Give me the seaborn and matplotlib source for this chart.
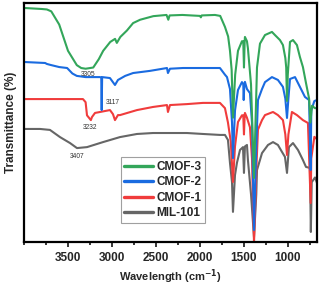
import numpy as np
import pandas as pd
import matplotlib
matplotlib.use("Agg")
import matplotlib.pyplot as plt
from matplotlib.lines import Line2D
from matplotlib.ticker import MultipleLocator
import seaborn as sns

# ---- data (wavenumber cm-1, transmittance in arbitrary offset %) ----
cmof3_wn = [3990, 3800, 3740, 3690, 3600, 3500, 3400, 3350, 3300, 3213, 3150, 3100, 3020, 2965, 2945, 2905,
            2830, 2760, 2680, 2530, 2380, 2360, 2345, 2200, 2000, 1990, 1980, 1830, 1770, 1716, 1680, 1659,
            1640, 1625, 1600, 1568, 1523, 1508, 1500, 1492, 1489, 1466, 1455, 1420, 1386, 1352, 1318, 1261,
            1182, 1148, 1091, 1057, 1030, 1020, 1011, 1002, 977, 943, 898, 864, 830, 795, 760, 745, 727, 693, 670]
cmof3_t = [97.9, 97.5, 97.3, 96.5, 91, 80, 74, 72.8, 72.5, 73, 76.5, 80, 83.7, 85, 83.3, 85.8,
           88.5, 91.6, 93, 94.5, 95, 93, 94.8, 95, 94.6, 94, 94.8, 95, 94.6, 90, 86, 80,
           72, 52, 70, 80, 84, 84, 73, 84, 85.8, 84, 81, 66, 26.8, 73, 83, 86.6,
           87.9, 86.6, 84.5, 82.4, 77, 73, 59, 70, 83.7, 84.5, 82.4, 77.4, 73.2, 66.5, 60, 50, 57, 56, 56]

cmof2_wn = [3990, 3760, 3740, 3700, 3600, 3510, 3450, 3400, 3300, 3216, 3136, 3122, 3117, 3112, 3023, 2966,
            2932, 2850, 2760, 2568, 2375, 2364, 2341, 2193, 2000, 1773, 1716, 1693, 1659, 1636, 1625, 1602,
            1568, 1523, 1508, 1503, 1496, 1489, 1466, 1432, 1409, 1386, 1360, 1341, 1295, 1261, 1182, 1114,
            1057, 1030, 1011, 995, 977, 920, 864, 807, 760, 742, 735, 700, 670]
cmof2_t = [75.3, 74.9, 74.5, 74.1, 73.2, 72.8, 70.5, 69.5, 69, 69, 69, 68.8, 55.2, 69, 68.6, 65.7,
           67.8, 69.5, 70.7, 71.6, 72.8, 70.7, 72.5, 72.8, 72.8, 72.8, 70, 69, 64, 50, 35.1, 55,
           63.6, 66.9, 66, 59.4, 66, 67, 64, 62.3, 50, 5, 40, 59.4, 64, 66.9, 69, 67.8,
           64.9, 60, 51.9, 60, 68.2, 69, 64.9, 60.7, 59.4, 30.1, 55, 59, 59.4]

cmof1_wn = [3990, 3330, 3300, 3284, 3240, 3227, 3193, 3136, 3023, 2989, 2966, 2932, 2909, 2716, 2534, 2375,
            2364, 2341, 2148, 1966, 1773, 1716, 1682, 1650, 1625, 1602, 1568, 1523, 1508, 1500, 1492, 1489,
            1466, 1432, 1409, 1386, 1360, 1341, 1295, 1261, 1170, 1114, 1057, 1030, 1011, 995, 955, 898,
            830, 773, 742, 735, 700, 670]
cmof1_t = [59.8, 59.8, 58.5, 53, 51, 52.3, 54, 54.4, 55.2, 53.5, 51, 53.1, 53.1, 55.2, 56.5, 57.3,
           54.4, 57.3, 57.7, 58.2, 58.2, 56, 50, 42, 25.1, 40, 50.2, 53, 53, 45, 53, 54,
           52, 48, 35, -0.5, 30, 47, 51, 53.1, 54.4, 53.1, 51, 45, 36.4, 45, 54.4, 53.1,
           51, 49.8, 16.3, 35, 44, 43]

mil_wn = [3990, 3818, 3705, 3591, 3477, 3398, 3284, 3102, 2909, 2716, 2534, 2341, 2148, 1966, 1773, 1716,
          1682, 1659, 1636, 1625, 1602, 1580, 1545, 1511, 1500, 1489, 1466, 1455, 1420, 1386, 1360, 1352,
          1295, 1227, 1170, 1114, 1068, 1034, 1011, 989, 943, 886, 830, 795, 750, 740, 730, 693, 670]
mil_t = [47.3, 47.3, 46.9, 43.9, 41.4, 39.3, 39.7, 41.8, 43.9, 45.2, 45.6, 45.6, 45.6, 45.2, 44.8, 44.8,
         42.7, 33.1, 25, 12.6, 28, 33.1, 38.5, 39.7, 28.9, 40, 40.6, 34.3, 20, 2, 20, 30.1,
         37.2, 40.6, 41.8, 40.6, 37.7, 35.6, 28.9, 39.7, 41.4, 38.5, 34.3, 31.4, 31, 4.2, 25, 27, 24.7]

names = ["MIL-101", "CMOF-1", "CMOF-2", "CMOF-3"]
colors = {"MIL-101": "#666666", "CMOF-1": "#f03c3c", "CMOF-2": "#1a6be0", "CMOF-3": "#33a65a"}

peak_labels = ["3305", "3117", "3232", "3407"]
peak_pos = [(3273, 70.0), (2994, 58.2), (3244, 48.1), (3398, 35.6)]

xticks = [3500, 3000, 2500, 2000, 1500, 1000]

frames = []
for nm, wn, t in [("MIL-101", mil_wn, mil_t), ("CMOF-1", cmof1_wn, cmof1_t),
                  ("CMOF-2", cmof2_wn, cmof2_t), ("CMOF-3", cmof3_wn, cmof3_t)]:
    frames.append(pd.DataFrame({"wn": wn, "T": t, "sample": nm}))
df = pd.concat(frames, ignore_index=True)

sns.set_style("ticks")
plt.rcParams["font.family"] = ["Liberation Sans", "DejaVu Sans"]
plt.rcParams["font.weight"] = "bold"

fig = plt.figure(figsize=(3.21, 2.88), dpi=100)
ax = fig.add_axes([24 / 321, 46 / 288, 293 / 321, 239 / 288])

sns.lineplot(data=df, x="wn", y="T", hue="sample", hue_order=names, palette=colors,
             estimator=None, sort=False, lw=1.5, legend=False, ax=ax)

ax.set_xlim(4000, 670)
ax.set_ylim(0, 100)
ax.set_yticks([])
ax.set_xticks(xticks)
ax.set_xticklabels([str(v) for v in xticks], fontsize=8.5, fontweight="bold")
ax.xaxis.set_minor_locator(MultipleLocator(250))
ax.tick_params(axis="x", which="major", length=3.5, width=1.3, direction="out", pad=4)
ax.tick_params(axis="x", which="minor", length=2.5, width=1.3, direction="out")
for s in ax.spines.values():
    s.set_linewidth(1.6)
    s.set_color("black")

ax.set_xlabel("Wavelength (cm$^{\\mathbf{-1}}$)", fontsize=8, fontweight="bold", labelpad=2)
ax.set_ylabel("Transmittance (%)", fontsize=8.5, fontweight="bold", labelpad=5)

for lab, (x, y) in zip(peak_labels, peak_pos):
    ax.text(x, y, lab, fontsize=4.8, fontweight="normal", color="#333333", ha="center", va="center")

handles = [Line2D([], [], color=colors[n], lw=2.4) for n in names[::-1]]
leg = ax.legend(handles, names[::-1], loc="lower left", bbox_to_anchor=(0.33, 0.08),
                prop={"size": 8.5, "weight": "bold"}, handlelength=2.4, handletextpad=0.3,
                labelspacing=0.3, borderpad=0.3, borderaxespad=0, frameon=True, fancybox=False)
leg.get_frame().set_edgecolor("#888888")
leg.get_frame().set_linewidth(0.8)

fig.savefig("out.png", dpi=100)
